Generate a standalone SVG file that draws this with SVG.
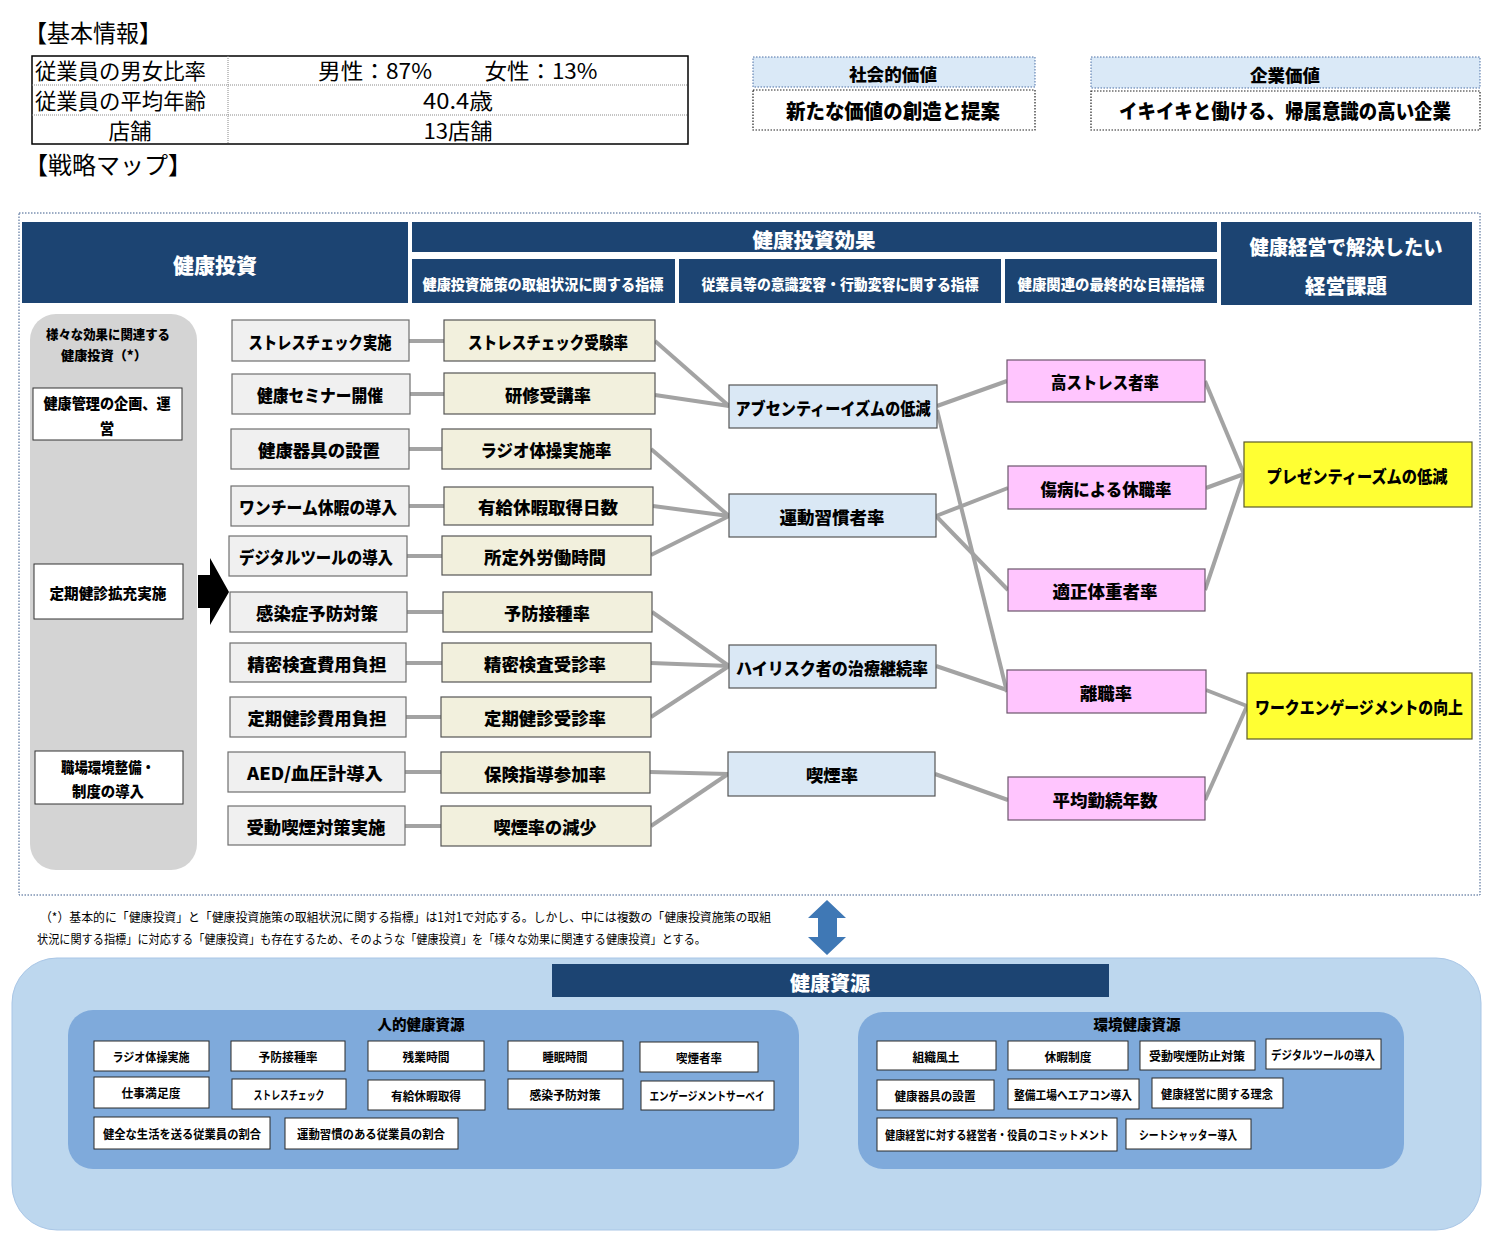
<svg xmlns="http://www.w3.org/2000/svg" width="1500" height="1249" viewBox="0 0 1500 1249">
<style>
text{font-family:"Noto Sans CJK JP","Noto Sans",sans-serif;dominant-baseline:central;text-anchor:middle;fill:#000}
.b{font-weight:bold}
.r{font-weight:normal}
.w{fill:#fff;font-weight:900}
.hdr{fill:#1c4472;stroke:none}
.n1{fill:#f0f0f0;stroke:#6f6f6f;stroke-width:1.2}
.n2{fill:#f2f0dd;stroke:#555;stroke-width:1.2}
.n3{fill:#dae8f5;stroke:#555;stroke-width:1.2}
.n4{fill:#ffc5fe;stroke:#6b556b;stroke-width:1.2}
.n5{fill:#ffff33;stroke:#5a5a2a;stroke-width:1.2}
.lb{fill:#fff;stroke:#333;stroke-width:1}
.rb{fill:#fff;stroke:#2a2a2a;stroke-width:1}
.conn line{stroke:#a3a3a3;stroke-width:4}
.tn{font-size:17px;font-weight:900}
.tl{font-size:14.5px;font-weight:900}
.ts{font-size:12px;font-weight:bold}
.tr{font-size:21.5px;font-weight:normal}
</style>

<!-- Basic info -->
<g id="basic-info">
<text x="24" y="31" class="r" style="font-size:24px;text-anchor:start" textLength="138" lengthAdjust="spacingAndGlyphs">【基本情報】</text>
<rect x="32" y="56" width="656" height="88" fill="#fff" stroke="#000" stroke-width="1.5"/>
<line x1="32" y1="85" x2="688" y2="85" stroke="#888" stroke-width="1" stroke-dasharray="1 1"/>
<line x1="32" y1="115" x2="688" y2="115" stroke="#888" stroke-width="1" stroke-dasharray="1 1"/>
<line x1="228" y1="56" x2="228" y2="144" stroke="#888" stroke-width="1" stroke-dasharray="1 1"/>
<text x="35" y="69.5" class="tr" style="text-anchor:start" textLength="171" lengthAdjust="spacingAndGlyphs">従業員の男女比率</text>
<text x="375" y="69.5" class="tr" textLength="114" lengthAdjust="spacingAndGlyphs">男性：87%</text>
<text x="541" y="69.5" class="tr" textLength="113" lengthAdjust="spacingAndGlyphs">女性：13%</text>
<text x="35" y="99" class="tr" style="text-anchor:start" textLength="171" lengthAdjust="spacingAndGlyphs">従業員の平均年齢</text>
<text x="458" y="99" class="tr" textLength="70" lengthAdjust="spacingAndGlyphs">40.4歳</text>
<text x="130" y="129" class="tr">店舗</text>
<text x="458" y="129" class="tr" textLength="69" lengthAdjust="spacingAndGlyphs">13店舗</text>
<text x="24" y="163" class="r" style="font-size:24px;text-anchor:start" textLength="168" lengthAdjust="spacingAndGlyphs">【戦略マップ】</text>
</g>

<!-- Value boxes -->
<g id="social-value">
<rect x="753" y="57" width="282" height="30" fill="#dae9f7" stroke="#4a6fa5" stroke-width="1" stroke-dasharray="1.5 1.5"/>
<text x="893" y="73" style="font-size:17px;font-weight:900" textLength="88" lengthAdjust="spacingAndGlyphs">社会的価値</text>
<rect x="753" y="90" width="282" height="40" fill="#fff" stroke="#222" stroke-width="1.2" stroke-dasharray="1.5 1.5"/>
<text x="893" y="110" style="font-size:20px;font-weight:900" textLength="214" lengthAdjust="spacingAndGlyphs">新たな価値の創造と提案</text>
</g>
<g id="corporate-value">
<rect x="1091" y="57" width="389" height="31" fill="#dae9f7" stroke="#4a6fa5" stroke-width="1" stroke-dasharray="1.5 1.5"/>
<text x="1285" y="74" style="font-size:17px;font-weight:900" textLength="70" lengthAdjust="spacingAndGlyphs">企業価値</text>
<rect x="1091" y="91" width="389" height="39" fill="#fff" stroke="#222" stroke-width="1.2" stroke-dasharray="1.5 1.5"/>
<text x="1285" y="110" style="font-size:20px;font-weight:900" textLength="332" lengthAdjust="spacingAndGlyphs">イキイキと働ける、帰属意識の高い企業</text>
</g>

<!-- Main frame -->
<rect x="19" y="213" width="1461" height="682" fill="none" stroke="#3a5a8a" stroke-width="1" stroke-dasharray="1.5 1.5"/>

<!-- Headers -->
<g id="hdr-invest">
<rect x="22" y="222" width="386" height="81" class="hdr"/>
<text x="215" y="264" class="w" style="font-size:21px">健康投資</text>
</g>
<g id="hdr-effect">
<rect x="412" y="222" width="805" height="30" class="hdr"/>
<text x="814" y="239" class="w" style="font-size:20.5px">健康投資効果</text>
</g>
<g id="hdr-sub1">
<rect x="412" y="259" width="263" height="44" class="hdr"/>
<text x="543" y="283" class="w" style="font-size:14.5px" textLength="241" lengthAdjust="spacingAndGlyphs">健康投資施策の取組状況に関する指標</text>
</g>
<g id="hdr-sub2">
<rect x="679" y="259" width="322" height="44" class="hdr"/>
<text x="840" y="283" class="w" style="font-size:14.5px" textLength="277" lengthAdjust="spacingAndGlyphs">従業員等の意識変容・行動変容に関する指標</text>
</g>
<g id="hdr-sub3">
<rect x="1005" y="259" width="212" height="44" class="hdr"/>
<text x="1111" y="283" class="w" style="font-size:14.5px" textLength="187" lengthAdjust="spacingAndGlyphs">健康関連の最終的な目標指標</text>
</g>
<g id="hdr-issue">
<rect x="1221" y="222" width="251" height="83" class="hdr"/>
<text x="1346" y="246" class="w" style="font-size:20px" textLength="193" lengthAdjust="spacingAndGlyphs">健康経営で解決したい</text>
<text x="1346" y="285" class="w" style="font-size:20.5px">経営課題</text>
</g>

<!-- Left column -->
<g id="left-column">
<rect x="30" y="314" width="167" height="556" rx="26" fill="#d4d4d4"/>
<text x="108" y="333" style="font-size:13px;font-weight:900" textLength="124" lengthAdjust="spacingAndGlyphs">様々な効果に関連する</text>
<text x="104" y="354" style="font-size:13px;font-weight:900" textLength="86" lengthAdjust="spacingAndGlyphs">健康投資（*）</text>
</g>
<g id="left-plan">
<rect x="33" y="388" width="149" height="52" class="lb"/>
<text x="107" y="402" class="tl" textLength="127" lengthAdjust="spacingAndGlyphs">健康管理の企画、運</text>
<text x="107" y="427" class="tl">営</text>
</g>
<g id="left-checkup">
<rect x="34" y="564" width="149" height="55" class="lb"/>
<text x="108" y="592" class="tl" textLength="117" lengthAdjust="spacingAndGlyphs">定期健診拡充実施</text>
</g>
<g id="left-env">
<rect x="35" y="751" width="148" height="53" class="lb"/>
<text x="108" y="766" class="tl" textLength="94" lengthAdjust="spacingAndGlyphs">職場環境整備・</text>
<text x="108" y="790" class="tl" textLength="72" lengthAdjust="spacingAndGlyphs">制度の導入</text>
</g>
<g id="big-arrow">
<polygon points="198,575 210,575 210,558 229,592 210,625 210,608 198,608" fill="#000"/>
</g>

<!-- Connectors -->
<g id="connectors" class="conn">
<line x1="409" y1="341" x2="444" y2="341"/>
<line x1="410" y1="394" x2="444" y2="394"/>
<line x1="409" y1="449" x2="442" y2="449"/>
<line x1="409" y1="506" x2="444" y2="506"/>
<line x1="407" y1="556" x2="442" y2="556"/>
<line x1="407" y1="612" x2="443" y2="612"/>
<line x1="406" y1="663" x2="442" y2="663"/>
<line x1="406" y1="717" x2="441" y2="717"/>
<line x1="405" y1="772" x2="441" y2="772"/>
<line x1="405" y1="826" x2="441" y2="826"/>

<line x1="655" y1="341" x2="729" y2="406"/>
<line x1="655" y1="395" x2="729" y2="406"/>
<line x1="651" y1="449" x2="729" y2="516"/>
<line x1="653" y1="506" x2="729" y2="516"/>
<line x1="651" y1="555" x2="729" y2="516"/>
<line x1="652" y1="612" x2="729" y2="666"/>
<line x1="651" y1="663" x2="729" y2="666"/>
<line x1="651" y1="717" x2="729" y2="666"/>
<line x1="650" y1="772" x2="728" y2="774"/>
<line x1="651" y1="826" x2="728" y2="774"/>

<line x1="937" y1="406" x2="1007" y2="381"/>
<line x1="937" y1="410" x2="1007" y2="692"/>
<line x1="936" y1="516" x2="1008" y2="488"/>
<line x1="936" y1="516" x2="1008" y2="590"/>
<line x1="936" y1="666" x2="1007" y2="690"/>
<line x1="935" y1="774" x2="1008" y2="800"/>

<line x1="1205" y1="381" x2="1244" y2="474"/>
<line x1="1206" y1="488" x2="1244" y2="474"/>
<line x1="1205" y1="590" x2="1244" y2="474"/>
<line x1="1206" y1="690" x2="1247" y2="706"/>
<line x1="1205" y1="800" x2="1247" y2="706"/>
</g>

<!-- Column 1: investments -->
<g id="inv-1"><rect x="232" y="320" width="177" height="41" class="n1"/><text x="320" y="341" class="tn" textLength="143" lengthAdjust="spacingAndGlyphs">ストレスチェック実施</text></g>
<g id="inv-2"><rect x="232" y="374" width="178" height="40" class="n1"/><text x="320" y="394" class="tn" textLength="126" lengthAdjust="spacingAndGlyphs">健康セミナー開催</text></g>
<g id="inv-3"><rect x="231" y="429" width="178" height="40" class="n1"/><text x="319" y="449" class="tn" textLength="122" lengthAdjust="spacingAndGlyphs">健康器具の設置</text></g>
<g id="inv-4"><rect x="231" y="486" width="178" height="40" class="n1"/><text x="318" y="506" class="tn" textLength="158" lengthAdjust="spacingAndGlyphs">ワンチーム休暇の導入</text></g>
<g id="inv-5"><rect x="229" y="536" width="178" height="40" class="n1"/><text x="316" y="556" class="tn" textLength="154" lengthAdjust="spacingAndGlyphs">デジタルツールの導入</text></g>
<g id="inv-6"><rect x="230" y="592" width="177" height="40" class="n1"/><text x="317" y="612" class="tn" textLength="122" lengthAdjust="spacingAndGlyphs">感染症予防対策</text></g>
<g id="inv-7"><rect x="230" y="643" width="176" height="39" class="n1"/><text x="317" y="663" class="tn" textLength="139" lengthAdjust="spacingAndGlyphs">精密検査費用負担</text></g>
<g id="inv-8"><rect x="230" y="697" width="176" height="40" class="n1"/><text x="317" y="717" class="tn" textLength="139" lengthAdjust="spacingAndGlyphs">定期健診費用負担</text></g>
<g id="inv-9"><rect x="228" y="752" width="177" height="40" class="n1"/><text x="315" y="772" class="tn" textLength="136" lengthAdjust="spacingAndGlyphs">AED/血圧計導入</text></g>
<g id="inv-10"><rect x="228" y="806" width="177" height="39" class="n1"/><text x="316" y="826" class="tn" textLength="139" lengthAdjust="spacingAndGlyphs">受動喫煙対策実施</text></g>

<!-- Column 2: activity indicators -->
<g id="ind-1"><rect x="444" y="320" width="211" height="41" class="n2"/><text x="548" y="341" class="tn" textLength="160" lengthAdjust="spacingAndGlyphs">ストレスチェック受験率</text></g>
<g id="ind-2"><rect x="444" y="373" width="211" height="41" class="n2"/><text x="548" y="394" class="tn" textLength="86" lengthAdjust="spacingAndGlyphs">研修受講率</text></g>
<g id="ind-3"><rect x="442" y="429" width="209" height="40" class="n2"/><text x="546" y="449" class="tn" textLength="131" lengthAdjust="spacingAndGlyphs">ラジオ体操実施率</text></g>
<g id="ind-4"><rect x="444" y="487" width="209" height="38" class="n2"/><text x="548" y="506" class="tn" textLength="140" lengthAdjust="spacingAndGlyphs">有給休暇取得日数</text></g>
<g id="ind-5"><rect x="442" y="536" width="209" height="39" class="n2"/><text x="545" y="556" class="tn" textLength="122" lengthAdjust="spacingAndGlyphs">所定外労働時間</text></g>
<g id="ind-6"><rect x="443" y="592" width="209" height="40" class="n2"/><text x="547" y="612" class="tn" textLength="86" lengthAdjust="spacingAndGlyphs">予防接種率</text></g>
<g id="ind-7"><rect x="442" y="643" width="209" height="39" class="n2"/><text x="545" y="663" class="tn" textLength="122" lengthAdjust="spacingAndGlyphs">精密検査受診率</text></g>
<g id="ind-8"><rect x="441" y="697" width="210" height="40" class="n2"/><text x="545" y="717" class="tn" textLength="122" lengthAdjust="spacingAndGlyphs">定期健診受診率</text></g>
<g id="ind-9"><rect x="441" y="752" width="209" height="41" class="n2"/><text x="545" y="773" class="tn" textLength="122" lengthAdjust="spacingAndGlyphs">保険指導参加率</text></g>
<g id="ind-10"><rect x="441" y="806" width="210" height="40" class="n2"/><text x="545" y="826" class="tn" textLength="103" lengthAdjust="spacingAndGlyphs">喫煙率の減少</text></g>

<!-- Column 3: behavior indicators -->
<g id="beh-1"><rect x="729" y="385" width="208" height="43" class="n3"/><text x="833" y="407" class="tn" textLength="195" lengthAdjust="spacingAndGlyphs">アブセンティーイズムの低減</text></g>
<g id="beh-2"><rect x="729" y="494" width="207" height="43" class="n3"/><text x="832" y="516" class="tn" textLength="105" lengthAdjust="spacingAndGlyphs">運動習慣者率</text></g>
<g id="beh-3"><rect x="729" y="645" width="207" height="43" class="n3"/><text x="832" y="667" class="tn" textLength="192" lengthAdjust="spacingAndGlyphs">ハイリスク者の治療継続率</text></g>
<g id="beh-4"><rect x="728" y="752" width="207" height="44" class="n3"/><text x="832" y="774" class="tn" textLength="52" lengthAdjust="spacingAndGlyphs">喫煙率</text></g>

<!-- Column 4: final indicators -->
<g id="goal-1"><rect x="1007" y="360" width="198" height="42" class="n4"/><text x="1105" y="381" class="tn" textLength="108" lengthAdjust="spacingAndGlyphs">高ストレス者率</text></g>
<g id="goal-2"><rect x="1008" y="466" width="198" height="43" class="n4"/><text x="1106" y="488" class="tn" textLength="131" lengthAdjust="spacingAndGlyphs">傷病による休職率</text></g>
<g id="goal-3"><rect x="1008" y="569" width="197" height="42" class="n4"/><text x="1105" y="590" class="tn" textLength="105" lengthAdjust="spacingAndGlyphs">適正体重者率</text></g>
<g id="goal-4"><rect x="1007" y="670" width="199" height="43" class="n4"/><text x="1106" y="692" class="tn" textLength="52" lengthAdjust="spacingAndGlyphs">離職率</text></g>
<g id="goal-5"><rect x="1008" y="777" width="197" height="43" class="n4"/><text x="1105" y="799" class="tn" textLength="105" lengthAdjust="spacingAndGlyphs">平均勤続年数</text></g>

<!-- Column 5: management issues -->
<g id="issue-1"><rect x="1244" y="442" width="228" height="65" class="n5"/><text x="1357" y="475" class="tn" textLength="181" lengthAdjust="spacingAndGlyphs">プレゼンティーズムの低減</text></g>
<g id="issue-2"><rect x="1247" y="673" width="225" height="66" class="n5"/><text x="1359" y="706" class="tn" textLength="208" lengthAdjust="spacingAndGlyphs">ワークエンゲージメントの向上</text></g>

<!-- Footnote -->
<g id="footnote">
<text x="40" y="916" class="r" style="font-size:12.5px;text-anchor:start" textLength="731" lengthAdjust="spacingAndGlyphs">（*）基本的に「健康投資」と「健康投資施策の取組状況に関する指標」は1対1で対応する。しかし、中には複数の「健康投資施策の取組</text>
<text x="37" y="938" class="r" style="font-size:12.5px;text-anchor:start" textLength="669" lengthAdjust="spacingAndGlyphs">状況に関する指標」に対応する「健康投資」も存在するため、そのような「健康投資」を「様々な効果に関連する健康投資」とする。</text>
</g>

<!-- Double arrow -->
<g id="double-arrow">
<polygon points="827,900 846,918 837,918 837,937 846,937 827,955 808,937 818,937 818,918 808,918" fill="#3f78b5"/>
</g>

<!-- Health resources -->
<g id="resources">
<rect x="12" y="958" width="1469" height="272" rx="45" fill="#bdd7ee" stroke="#a9c6e6" stroke-width="1"/>
<rect x="552" y="964" width="557" height="33" class="hdr"/>
<text x="830" y="982" class="w" style="font-size:20px">健康資源</text>
</g>

<g id="human-resources">
<rect x="68" y="1010" width="731" height="159" rx="25" fill="#7faadb"/>
<text x="421" y="1023" style="font-size:14.5px;font-weight:900">人的健康資源</text>
</g>
<g id="hr-1"><rect x="94" y="1041" width="115" height="30" class="rb"/><text x="151" y="1056" class="ts" textLength="77" lengthAdjust="spacingAndGlyphs">ラジオ体操実施</text></g>
<g id="hr-2"><rect x="231" y="1041" width="114" height="30" class="rb"/><text x="288" y="1056" class="ts" textLength="59" lengthAdjust="spacingAndGlyphs">予防接種率</text></g>
<g id="hr-3"><rect x="368" y="1041" width="116" height="30" class="rb"/><text x="426" y="1056" class="ts" textLength="47" lengthAdjust="spacingAndGlyphs">残業時間</text></g>
<g id="hr-4"><rect x="508" y="1041" width="115" height="30" class="rb"/><text x="565" y="1056" class="ts" textLength="45" lengthAdjust="spacingAndGlyphs">睡眠時間</text></g>
<g id="hr-5"><rect x="640" y="1042" width="118" height="30" class="rb"/><text x="699" y="1057" class="ts" textLength="46" lengthAdjust="spacingAndGlyphs">喫煙者率</text></g>
<g id="hr-6"><rect x="94" y="1077" width="115" height="31" class="rb"/><text x="151" y="1092" class="ts" textLength="59" lengthAdjust="spacingAndGlyphs">仕事満足度</text></g>
<g id="hr-7"><rect x="232" y="1079" width="114" height="30" class="rb"/><text x="289" y="1094" class="ts" textLength="71" lengthAdjust="spacingAndGlyphs">ストレスチェック</text></g>
<g id="hr-8"><rect x="368" y="1080" width="117" height="30" class="rb"/><text x="426" y="1095" class="ts" textLength="70" lengthAdjust="spacingAndGlyphs">有給休暇取得</text></g>
<g id="hr-9"><rect x="508" y="1079" width="115" height="30" class="rb"/><text x="565" y="1094" class="ts" textLength="71" lengthAdjust="spacingAndGlyphs">感染予防対策</text></g>
<g id="hr-10"><rect x="641" y="1081" width="133" height="29" class="rb"/><text x="707" y="1095" class="ts" textLength="115" lengthAdjust="spacingAndGlyphs">エンゲージメントサーベイ</text></g>
<g id="hr-11"><rect x="94" y="1117" width="176" height="32" class="rb"/><text x="182" y="1133" class="ts" textLength="158" lengthAdjust="spacingAndGlyphs">健全な生活を送る従業員の割合</text></g>
<g id="hr-12"><rect x="285" y="1118" width="173" height="31" class="rb"/><text x="371" y="1133" class="ts" textLength="148" lengthAdjust="spacingAndGlyphs">運動習慣のある従業員の割合</text></g>

<g id="env-resources">
<rect x="858" y="1012" width="546" height="157" rx="25" fill="#7faadb"/>
<text x="1137" y="1023" style="font-size:14.5px;font-weight:900">環境健康資源</text>
</g>
<g id="er-1"><rect x="877" y="1041" width="119" height="29" class="rb"/><text x="936" y="1056" class="ts" textLength="47" lengthAdjust="spacingAndGlyphs">組織風土</text></g>
<g id="er-2"><rect x="1008" y="1041" width="120" height="29" class="rb"/><text x="1068" y="1056" class="ts" textLength="47" lengthAdjust="spacingAndGlyphs">休暇制度</text></g>
<g id="er-3"><rect x="1140" y="1041" width="115" height="29" class="rb"/><text x="1197" y="1055" class="ts" textLength="96" lengthAdjust="spacingAndGlyphs">受動喫煙防止対策</text></g>
<g id="er-4"><rect x="1266" y="1039" width="115" height="30" class="rb"/><text x="1323" y="1054" class="ts" textLength="104" lengthAdjust="spacingAndGlyphs">デジタルツールの導入</text></g>
<g id="er-5"><rect x="877" y="1080" width="117" height="30" class="rb"/><text x="935" y="1095" class="ts" textLength="81" lengthAdjust="spacingAndGlyphs">健康器具の設置</text></g>
<g id="er-6"><rect x="1008" y="1079" width="131" height="30" class="rb"/><text x="1073" y="1094" class="ts" textLength="118" lengthAdjust="spacingAndGlyphs">整備工場へエアコン導入</text></g>
<g id="er-7"><rect x="1152" y="1078" width="131" height="30" class="rb"/><text x="1217" y="1093" class="ts" textLength="112" lengthAdjust="spacingAndGlyphs">健康経営に関する理念</text></g>
<g id="er-8"><rect x="877" y="1118" width="240" height="33" class="rb"/><text x="997" y="1134" class="ts" textLength="224" lengthAdjust="spacingAndGlyphs">健康経営に対する経営者・役員のコミットメント</text></g>
<g id="er-9"><rect x="1126" y="1119" width="125" height="30" class="rb"/><text x="1188" y="1134" class="ts" textLength="98" lengthAdjust="spacingAndGlyphs">シートシャッター導入</text></g>
</svg>
